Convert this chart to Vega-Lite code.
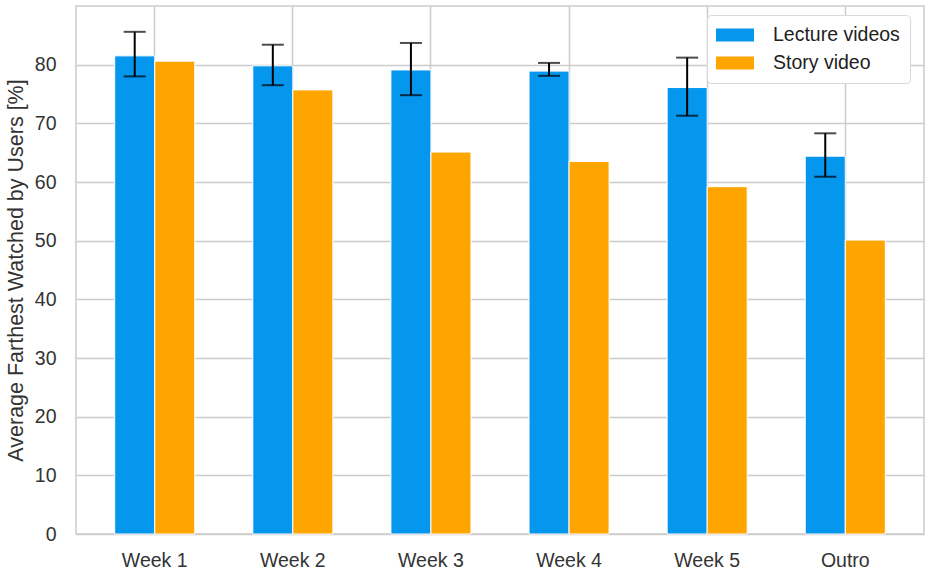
{
  "$schema": "https://vega.github.io/schema/vega-lite/v6.json",
  "width": 848,
  "height": 528,
  "autosize": {"type": "none"},
  "padding": {"left": 76, "top": 6, "right": 11, "bottom": 40},
  "background": "white",
  "config": {
    "font": "Liberation Sans",
    "view": {"stroke": "#cccccc", "strokeWidth": 1.5},
    "axis": {"gridColor": "#cccccc", "gridWidth": 1.5, "domain": false, "ticks": false, "labelColor": "#333333", "titleColor": "#333333", "labelFontSize": 19.5, "titleFontSize": 21.5, "titleFontWeight": "normal"}
  },
  "data": {
    "values": [
      {"week": "Week 1", "series": "Lecture videos", "value": 81.5, "lo": 78.0, "hi": 85.6},
      {"week": "Week 1", "series": "Story video", "value": 80.6},
      {"week": "Week 2", "series": "Lecture videos", "value": 79.8, "lo": 76.5, "hi": 83.4},
      {"week": "Week 2", "series": "Story video", "value": 75.7},
      {"week": "Week 3", "series": "Lecture videos", "value": 79.1, "lo": 74.8, "hi": 83.7},
      {"week": "Week 3", "series": "Story video", "value": 65.1},
      {"week": "Week 4", "series": "Lecture videos", "value": 78.9, "lo": 78.1, "hi": 80.3},
      {"week": "Week 4", "series": "Story video", "value": 63.5},
      {"week": "Week 5", "series": "Lecture videos", "value": 76.1, "lo": 71.3, "hi": 81.2},
      {"week": "Week 5", "series": "Story video", "value": 59.2},
      {"week": "Outro", "series": "Lecture videos", "value": 64.4, "lo": 60.9, "hi": 68.3},
      {"week": "Outro", "series": "Story video", "value": 50.1}
    ]
  },
  "encoding": {
    "x": {
      "field": "week", "type": "nominal",
      "sort": ["Week 1", "Week 2", "Week 3", "Week 4", "Week 5", "Outro"],
      "scale": {"paddingInner": 0, "paddingOuter": 0.07},
      "axis": {"title": null, "labelAngle": 0, "labelPadding": 17, "grid": true}
    },
    "xOffset": {
      "field": "series", "type": "nominal",
      "scale": {"domain": ["Lecture videos", "Story video"], "paddingInner": 0, "paddingOuter": 0.725}
    }
  },
  "layer": [
    {
      "mark": {"type": "bar", "stroke": "white", "strokeWidth": 1},
      "encoding": {
        "y": {
          "field": "value", "type": "quantitative",
          "scale": {"domain": [0, 90], "nice": false},
          "axis": {"title": "Average Farthest Watched by Users [%]", "values": [0, 10, 20, 30, 40, 50, 60, 70, 80], "labelPadding": 20, "titlePadding": 7}
        },
        "color": {
          "field": "series", "type": "nominal",
          "scale": {"domain": ["Lecture videos", "Story video"], "range": ["#0597EE", "#FFA500"]},
          "legend": {
            "title": null, "orient": "none", "legendX": 631, "legendY": 9,
            "symbolType": "M-1.1,-0.65H2.7V0.65H-1.1Z", "symbolSize": 400, "symbolStrokeWidth": 0,
            "labelFontSize": 19.5, "labelColor": "#222222", "labelOffset": 36,
            "rowPadding": 8, "padding": 10,
            "fillColor": "white", "strokeColor": "#d9d9d9", "cornerRadius": 4
          }
        }
      }
    },
    {
      "transform": [{"filter": "datum.lo != null"}],
      "mark": {"type": "rule", "color": "black", "strokeWidth": 2},
      "encoding": {
        "y": {"field": "lo", "type": "quantitative"},
        "y2": {"field": "hi"}
      }
    },
    {
      "transform": [{"filter": "datum.lo != null"}],
      "mark": {"type": "tick", "color": "black", "thickness": 2, "size": 22},
      "encoding": {
        "y": {"field": "lo", "type": "quantitative"}
      }
    },
    {
      "transform": [{"filter": "datum.lo != null"}],
      "mark": {"type": "tick", "color": "black", "thickness": 2, "size": 22},
      "encoding": {
        "y": {"field": "hi", "type": "quantitative"}
      }
    }
  ]
}
